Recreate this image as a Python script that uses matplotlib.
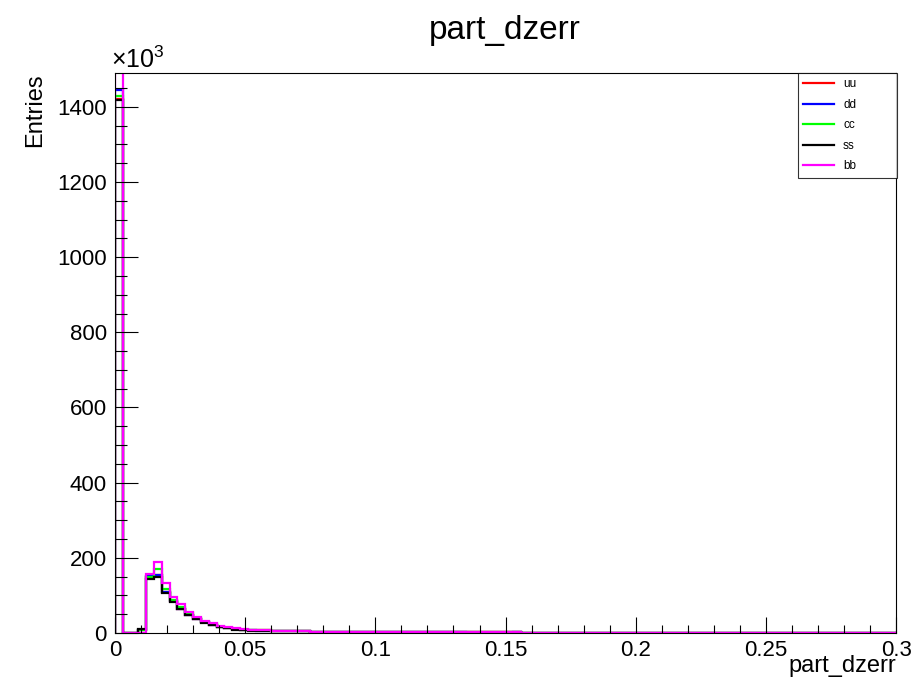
import numpy as np
import matplotlib
matplotlib.use("Agg")
import matplotlib.pyplot as plt
from matplotlib.ticker import MultipleLocator

plt.rcParams['font.family'] = ['Liberation Sans', 'DejaVu Sans']
plt.rcParams['mathtext.fontset'] = 'custom'
plt.rcParams['mathtext.rm'] = 'Liberation Sans'

# histogram: 100 bins from 0 to 0.3 (values in units of 10^3 entries)
x_min, x_max, n_bins = 0.0, 0.3, 100

tail_zero = [0] * 48

uu = [1421, 0, 0, 8, 148, 155, 110, 85, 65, 49, 38, 29, 22, 17, 13, 10, 8, 7,
      7, 7, 5, 5, 5, 4, 4, 3, 3, 3, 3, 3, 3, 2, 2, 2, 2, 2, 2, 2, 2, 2,
      2, 2, 2, 2, 2, 2, 2, 2, 2, 2, 2, 2] + tail_zero
dd = [1445, 0, 0, 9, 152, 153, 110, 85, 65, 49, 38, 29, 22, 17, 13, 10, 8, 7,
      6, 6, 5, 5, 4, 4, 4, 3, 3, 3, 3, 3, 3, 2, 2, 2, 2, 2, 2, 2, 2, 2,
      2, 2, 2, 2, 2, 1, 1, 1, 1, 1, 1, 2] + tail_zero
cc = [1430, 0, 0, 7, 150, 170, 116, 88, 68, 52, 40, 30, 23, 17, 13, 10, 8, 7,
      7, 7, 5, 5, 5, 4, 4, 3, 3, 3, 3, 3, 3, 2, 2, 2, 2, 2, 2, 2, 2, 2,
      2, 2, 2, 2, 2, 2, 2, 2, 2, 2, 2, 2] + tail_zero
ss = [1417, 0, 0, 10, 143, 150, 107, 83, 63, 47, 36, 27, 21, 16, 12, 9, 7, 6,
      6, 6, 5, 5, 5, 4, 4, 3, 3, 3, 3, 3, 3, 2, 2, 2, 2, 2, 2, 2, 2, 2,
      2, 2, 2, 2, 2, 2, 2, 2, 2, 2, 2, 2] + tail_zero
bb = [1530, 0, 0, 0, 157, 190, 132, 95, 77, 57, 43, 33, 26, 19, 15, 12, 10, 9,
      9, 9, 6, 6, 6, 5, 5, 3, 3, 3, 3, 3, 3, 3, 3, 3, 3, 3, 3, 3, 3, 3,
      3, 3, 3, 3, 3, 3, 3, 3, 3, 3, 3, 3] + tail_zero

series_names = ["uu", "dd", "cc", "ss", "bb"]
series_values = [uu, dd, cc, ss, bb]
series_colors = ["#ff0000", "#0000ff", "#00ff00", "#000000", "#ff00ff"]

edges = np.linspace(x_min, x_max, n_bins + 1)

fig = plt.figure(figsize=(9.2, 6.86), dpi=100)
ax = fig.add_axes([0.125, 0.0773, 0.849, 0.8163])

for name, vals, col in zip(series_names, series_values, series_colors):
    ax.stairs(vals, edges, baseline=0, color=col, linewidth=1.6, label=name)

ax.set_xlim(x_min, x_max)
ax.set_ylim(0, 1490)

ax.xaxis.set_major_locator(MultipleLocator(0.05))
ax.xaxis.set_minor_locator(MultipleLocator(0.01))
ax.yaxis.set_major_locator(MultipleLocator(200))
ax.yaxis.set_minor_locator(MultipleLocator(50))
ax.set_xticks([0, 0.05, 0.1, 0.15, 0.2, 0.25, 0.3])
ax.set_xticklabels(["0", "0.05", "0.1", "0.15", "0.2", "0.25", "0.3"])

ax.tick_params(axis='x', which='major', direction='in', length=11.5, width=0.8,
               labelsize=16, pad=5)
ax.tick_params(axis='x', which='minor', direction='in', length=5.8, width=0.8)
ax.tick_params(axis='y', which='major', direction='in', length=16.5, width=0.8,
               labelsize=16, pad=6)
ax.tick_params(axis='y', which='minor', direction='in', length=8.5, width=0.8)
for s in ax.spines.values():
    s.set_linewidth(0.8)

ax.set_xlabel("part_dzerr", fontsize=17, loc='right')
ax.xaxis.set_label_coords(1.0, -0.04)
ax.set_ylabel("Entries", fontsize=17, loc='top')
ax.yaxis.set_label_coords(-0.088, 1.0)

fig.text(0.549, 0.955, "part_dzerr", fontsize=24, ha='center', va='center')
fig.text(0.121, 0.893, r"$\mathregular{\times10^{3}}$", fontsize=18,
         ha='left', va='bottom')

leg = fig.legend(loc='upper left', bbox_to_anchor=(0.867, 0.7376, 0.108, 0.156),
                 mode='expand', fontsize=8.5, frameon=True, fancybox=False,
                 edgecolor='black', handlelength=2.6, handletextpad=0.8,
                 labelspacing=0.72, borderaxespad=0.0, borderpad=0.45)
leg.get_frame().set_linewidth(0.8)
for line in leg.get_lines():
    line.set_linewidth(1.6)

fig.savefig("out.png", dpi=100)
